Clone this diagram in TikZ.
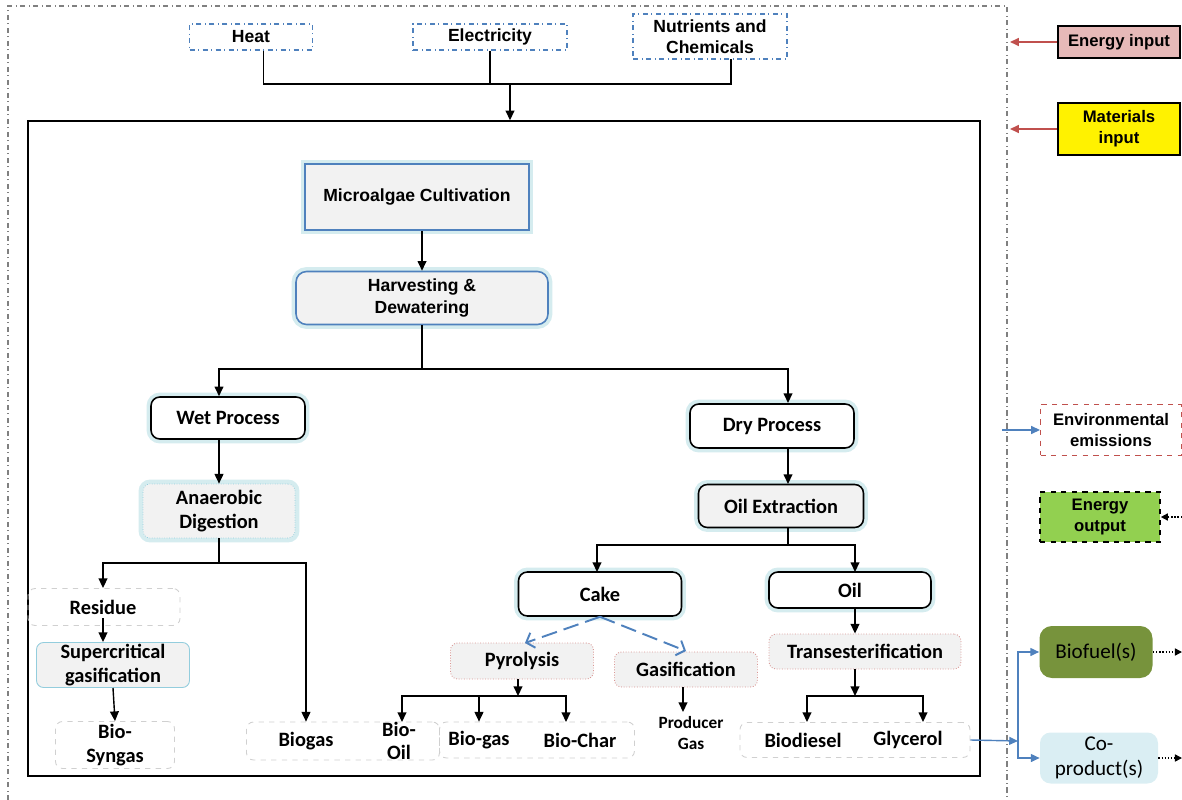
\documentclass[tikz,border=0pt]{standalone}
\usepackage{fontspec}
\setmainfont{Liberation Sans}
\newfontfamily\calfont{Carlito}
\usepackage{xcolor}
\usetikzlibrary{arrows.meta,calc,positioning}
\definecolor{boxblue}{HTML}{4F81BD}
\definecolor{glowc}{HTML}{D5ECEF}
\definecolor{boxgray}{HTML}{F2F2F2}
\definecolor{pinkline}{HTML}{D99694}
\definecolor{lblue}{HTML}{93CDDD}
\definecolor{dashgray}{HTML}{D0D0D0}
\definecolor{energyin}{HTML}{E6B9B8}
\definecolor{redarrow}{HTML}{C0504D}
\definecolor{greenout}{HTML}{92D050}
\definecolor{olivegreen}{HTML}{77933C}
\definecolor{coprodc}{HTML}{DAEEF3}
\definecolor{frame}{HTML}{808080}
\tikzstyle{line}=[draw,line width=0.8pt]
\tikzstyle{arrow}=[line,-{Triangle[length=5.5pt,width=5pt]}]
\tikzstyle{glow}=[preaction={draw=glowc,solid,line width=5pt}]
\tikzstyle{inbox}=[draw=boxblue,dash dot,line width=0.6pt,font=\bfseries\fontsize{10}{12}\selectfont,align=center,inner sep=0pt]
\tikzstyle{stagebox}=[draw=boxblue,fill=boxgray,line width=0.9pt,glow,font=\bfseries\fontsize{10}{13}\selectfont,align=center,inner sep=0pt]
\tikzstyle{procbox}=[draw=black,fill=white,rounded corners=5pt,line width=0.9pt,glow,font=\calfont\bfseries\fontsize{11.6}{13.5}\selectfont,align=center,inner sep=0pt]
\tikzstyle{techbox}=[fill=boxgray,rounded corners=4pt,font=\calfont\bfseries\fontsize{11.6}{13.5}\selectfont,align=center,inner sep=0pt]
\tikzstyle{outbox}=[draw=dashgray,dashed,rounded corners=4pt,line width=0.5pt,inner sep=0pt]
\tikzstyle{outtext}=[font=\calfont\bfseries\fontsize{11.6}{13.5}\selectfont,align=center,inner sep=0pt]
\tikzstyle{legend}=[draw=black,line width=0.9pt,font=\bfseries\fontsize{9.5}{12}\selectfont,align=center,inner sep=0pt]

\begin{document}
\begin{tikzpicture}[x=0.02cm,y=-0.02cm]
\useasboundingbox (0,0) rectangle (1182,800);
% frame of the system boundary
\draw[frame,dash dot,line width=0.6pt] (8,800)--(8,6)--(1007,6)--(1007,800);
\node[draw,line width=0.9pt,minimum width=19.04cm,minimum height=13.1cm](sys) at (504,448.5){};
% inputs
\node[inbox,minimum width=2.46cm,minimum height=0.52cm](heat) at (251,37){Heat};
\node[inbox,minimum width=3.08cm,minimum height=0.52cm](elec) at (490,37){Electricity};
\node[inbox,minimum width=3.08cm,minimum height=0.9cm](nutr) at (710,36.5){Nutrients and\\Chemicals};
\coordinate (tj) at (510,84);
\coordinate (nj) at (731,59);
\draw[line] ([xshift=7]heat.south) |- (nj |- tj) -- (nj);
\draw[line] (elec.south) -- (elec.south |- tj);
\draw[arrow] (tj) -- (tj |- sys.north);
% main chain
\node[stagebox,minimum width=4.48cm,minimum height=1.32cm](cult) at (417,197){Microalgae Cultivation};
\node[stagebox,rounded corners=6pt,minimum width=5.04cm,minimum height=1.06cm](harv) at (422,298){Harvesting \&\\Dewatering};
\draw[arrow] (cult.south -| harv) -- (harv.north);
\coordinate (hj) at (422,369);
\node[procbox,minimum width=3.08cm,minimum height=0.84cm](wet) at (228,418){Wet Process};
\node[procbox,minimum width=3.28cm,minimum height=0.88cm](dry) at (772,426){Dry Process};
\node[techbox,draw=lblue,densely dotted,glow,minimum width=3.04cm,minimum height=1.08cm](anaer) at (219,511){Anaerobic\\Digestion};
\node[techbox,draw=black,line width=0.9pt,rounded corners=5pt,glow,minimum width=3.3cm,minimum height=0.86cm](oilx) at (781,506){Oil Extraction};
\draw[line] (harv.south) -- (hj);
\draw[arrow] (hj) -| (anaer |- wet.north);
\draw[arrow] (hj) -| (788,403);
\draw[arrow] (anaer |- wet.south) -- (anaer.north);
\draw[arrow] (788,448) -- (788,484);
% wet branch
\node[outbox,minimum width=3.04cm,minimum height=0.74cm](resbox) at (104,607){};
\node[outtext](res) at (103,607){Residue};
\node[techbox,draw=lblue,line width=0.5pt,minimum width=3.06cm,minimum height=0.9cm](superc) at (113,665){Supercritical\\gasification};
\node[outbox,minimum width=2.38cm,minimum height=0.94cm](syngas) at (115,745){};
\node[outtext] at (115,745){Bio-\\Syngas};
\node[outbox,minimum width=3.86cm,minimum height=0.76cm](gasbox) at (343,741){};
\node[outtext,minimum height=0.76cm](biogas) at (306,741){Biogas};
\coordinate (aj) at (219,563);
\draw[line] (anaer.south) -- (aj);
\draw[arrow] (aj) -| (resbox.north -| res);
\draw[arrow] (aj) -| (biogas.north);
\draw[arrow] (103,618) -- (superc.north -| res);
\draw[arrow] (113,688) -- (syngas.north);
% dry branch
\node[procbox,minimum width=3.26cm,minimum height=0.88cm](cake) at (600,594){Cake};
\node[procbox,minimum width=3.24cm,minimum height=0.72cm](oil) at (850,590){Oil};
\coordinate (oj) at (788,545);
\draw[line] (oilx.south -| oj) -- (oj);
\draw[arrow] (oj) -| (597,572);
\draw[arrow] (oj) -| (855,572);
\node[techbox,draw=pinkline,densely dotted,line width=0.5pt,minimum width=2.86cm,minimum height=0.72cm](pyro) at (522,661){Pyrolysis};
\node[techbox,draw=pinkline,densely dotted,line width=0.5pt,minimum width=2.86cm,minimum height=0.7cm](gasi) at (686,669.5){Gasification};
\node[techbox,draw=pinkline,densely dotted,line width=0.5pt,minimum width=3.84cm,minimum height=0.7cm](trans) at (865,651.5){Transesterification};
\draw[boxblue,line width=1.1pt,dash pattern=on 9pt off 4pt,-{Straight Barb[length=4pt,width=9pt]}] (cake.south) -- (525,643);
\draw[boxblue,line width=1.1pt,dash pattern=on 9pt off 4pt,-{Straight Barb[length=4pt,width=9pt]}] (cake.south) -- (686,651);
\draw[arrow] (855,608) -- (trans.north -| 855,0);
% products
\node[outtext,minimum height=0.76cm](biooil) at (399,741){Bio-\\Oil};
\node[outbox,minimum width=3.9cm,minimum height=0.72cm](charbox) at (537,740){};
\node[outtext,minimum height=0.72cm](biogas2) at (479,740){Bio-gas};
\node[outtext,minimum height=0.72cm](biochar) at (580,740){Bio-Char};
\coordinate (pj) at (518,696);
\draw[arrow] (518,679) -- (pj);
\draw[arrow] (pj) -| (402,722);
\draw[arrow] (pj) -| (biogas2.north);
\draw[arrow] (pj) -| (566,722);
\node[font=\calfont\bfseries\fontsize{9.8}{11.5}\selectfont,align=center,inner sep=0pt](prodgas) at (691,733){Producer\\Gas};
\draw[arrow] (683,687) -- (683,712);
\node[outbox,minimum width=4.6cm,minimum height=0.7cm](dieselbox) at (855,740){};
\node[outtext,minimum height=0.7cm](diesel) at (803,740){Biodiesel};
\node[outtext,minimum height=0.7cm](glyc) at (908,740){Glycerol};
\coordinate (tr) at (855,696);
\draw[arrow] (trans.south -| tr) -- (tr);
\draw[arrow] (tr) -| (807,722);
\draw[arrow] (tr) -| (923,722);
% legend on the right
\node[legend,fill=energyin,minimum width=2.44cm,minimum height=0.64cm](einput) at (1119,42){Energy input};
\node[legend,fill=yellow,minimum width=2.44cm,minimum height=1.04cm](minput) at (1119,129){Materials\\input};
\node[legend,draw=redarrow,dashed,line width=0.6pt,minimum width=2.82cm,minimum height=1.02cm](env) at (1111,430){Environmental\\emissions};
\node[legend,fill=greenout,dashed,minimum width=2.4cm,minimum height=1.0cm](eout) at (1100,517){Energy\\output};
\node[fill=olivegreen,rounded corners=7pt,minimum width=2.26cm,minimum height=1.04cm,font=\calfont\fontsize{12}{13}\selectfont](biofuel) at (1096,652){Biofuel(s)};
\node[fill=coprodc,rounded corners=6pt,minimum width=2.36cm,minimum height=1.02cm,align=center,inner sep=0pt,font=\calfont\fontsize{12}{14}\selectfont](coprod) at (1099,758){Co-\\product(s)};
\coordinate (envsrc) at (1002,430);
\draw[redarrow,line width=0.8pt,-{Triangle[length=5pt,width=4.5pt]}] (einput.west) -- (1010,42);
\draw[redarrow,line width=0.8pt,-{Triangle[length=5pt,width=4.5pt]}] (minput.west) -- (1010,129);
\draw[boxblue,line width=0.8pt,-{Triangle[length=5pt,width=4.5pt]}] (envsrc) -- (env.west);
\draw[densely dotted,line width=0.8pt,-{Triangle[length=4pt,width=4pt]}] (1182,517) -- (eout.east);
\draw[densely dotted,line width=0.8pt,-{Triangle[length=4pt,width=4pt]}] (biofuel.east) -- (1182,652);
\draw[densely dotted,line width=0.8pt,-{Triangle[length=4pt,width=4pt]}] (coprod.east) -- (1182,758);
\coordinate (sp) at (1018,741);
\draw[boxblue,line width=0.8pt,-{Triangle[length=5pt,width=4.5pt]}] (dieselbox.east) -- (sp);
\draw[boxblue,line width=0.8pt,-{Triangle[length=5pt,width=4.5pt]}] (sp) |- (biofuel.west);
\draw[boxblue,line width=0.8pt,-{Triangle[length=5pt,width=4.5pt]}] (sp) |- (coprod.west);
\end{tikzpicture}
\end{document}
